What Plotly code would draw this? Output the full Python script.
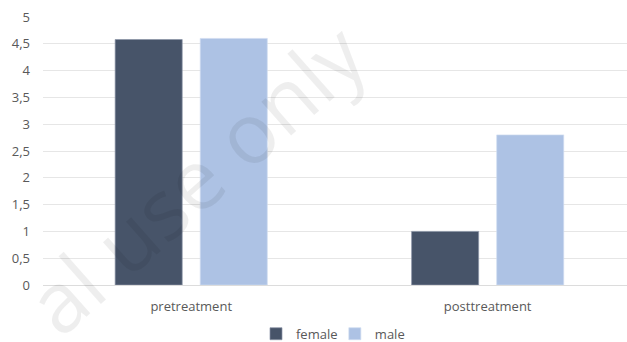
import plotly.graph_objects as go

categories = ["pretreatment", "posttreatment"]
female = [4.58, 1.0]
male = [4.6, 2.8]
y_ticks = [0, 0.5, 1, 1.5, 2, 2.5, 3, 3.5, 4, 4.5, 5]
y_tick_labels = ["0", "0,5", "1", "1,5", "2", "2,5", "3", "3,5", "4", "4,5", "5"]

font = dict(family="Open Sans", size=12, color="#595959")

fig = go.Figure()
fig.add_trace(go.Bar(name="female", x=categories, y=female,
                     marker=dict(color="#475469", line=dict(color="#8a94a6", width=0.7))))
fig.add_trace(go.Bar(name="male", x=categories, y=male,
                     marker=dict(color="#adc2e4", line=dict(color="#d0ddf0", width=0.7))))

fig.update_layout(
    width=627, height=342,
    margin=dict(l=43, r=0, t=17, b=57, autoexpand=False),
    paper_bgcolor="white", plot_bgcolor="white",
    barmode="group", bargap=0.426, bargroupgap=0.212,
    font=font,
    showlegend=True,
    legend=dict(orientation="h", x=0.50, xanchor="center", y=-0.238, yanchor="bottom",
                font=dict(family="Open Sans", size=13, color="#595959"),
                itemwidth=30, traceorder="normal", entrywidth=0.135, entrywidthmode="fraction",
                bgcolor="rgba(0,0,0,0)"),
    xaxis=dict(range=[-0.5, 1.47], showgrid=False, showline=False, zeroline=False,
               ticks="", tickfont=dict(family="Open Sans", size=13, color="#595959"),
               ticklabelstandoff=12),
    yaxis=dict(range=[0, 5], tickvals=y_ticks, ticktext=y_tick_labels,
               showgrid=True, gridcolor="#e6e6e6", gridwidth=1,
               zeroline=True, zerolinecolor="#dcdcdc", zerolinewidth=1,
               showline=False, ticks="", tickfont=dict(family="Open Sans", size=13, color="#595959"),
               ticklabelstandoff=12),
    annotations=[dict(text="al use only", xref="paper", yref="paper",
                      x=0.26, y=0.40, xanchor="center", yanchor="middle",
                      showarrow=False, textangle=-41.5,
                      font=dict(family="Open Sans", size=84, color="rgba(0,0,0,0.065)"))],
)

fig.write_html("out.html")
